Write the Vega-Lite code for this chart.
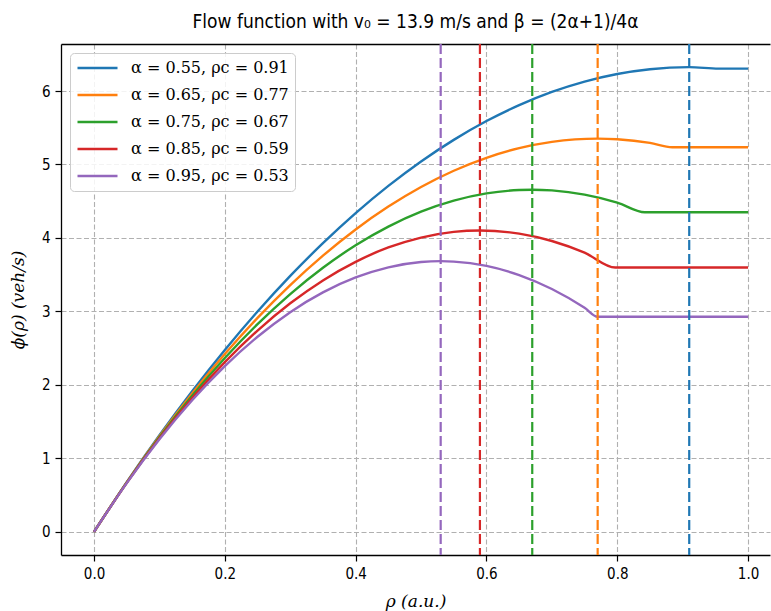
{
  "$schema": "https://vega.github.io/schema/vega-lite/v6.json",
  "width": 709,
  "height": 511,
  "autosize": {"type": "none"},
  "padding": {"left": 61, "top": 44, "right": 1, "bottom": 56},
  "background": "white",
  "title": {
    "text": "Flow function with v₀ = 13.9 m/s and β = (2α+1)/4α",
    "font": "'Liberation Sans Narrow', 'DejaVu Sans Condensed', Roboto",
    "fontSize": 19,
    "fontWeight": "normal",
    "color": "black",
    "anchor": "middle",
    "offset": 11
  },
  "config": {
    "view": {"stroke": null},
    "axis": {
      "domainColor": "black",
      "domainWidth": 1.3,
      "tickColor": "black",
      "tickWidth": 1.2,
      "tickSize": 6,
      "labelFont": "'Liberation Sans Narrow', 'DejaVu Sans Condensed', Roboto",
      "labelFontSize": 15,
      "labelColor": "black",
      "labelPadding": 5,
      "gridColor": "#b0b0b0",
      "gridDash": [5, 2.5],
      "gridWidth": 1.1,
      "titleFont": "'DejaVu Serif', 'Liberation Serif', serif",
      "titleFontStyle": "italic",
      "titleFontWeight": "normal",
      "titleFontSize": 17,
      "titleColor": "black"
    },
    "axisRight": {"domain": false, "grid": false, "ticks": false, "labels": false, "title": null}
  },
  "resolve": {"axis": {"x": "independent"}},
  "datasets": {
    "curves": [
      {"s": "α = 0.55, ρc = 0.91", "rho": 0, "phi": 0},
      {"s": "α = 0.55, ρc = 0.91", "rho": 0.05, "phi": 0.676},
      {"s": "α = 0.55, ρc = 0.91", "rho": 0.1, "phi": 1.314},
      {"s": "α = 0.55, ρc = 0.91", "rho": 0.15, "phi": 1.913},
      {"s": "α = 0.55, ρc = 0.91", "rho": 0.2, "phi": 2.475},
      {"s": "α = 0.55, ρc = 0.91", "rho": 0.25, "phi": 2.998},
      {"s": "α = 0.55, ρc = 0.91", "rho": 0.3, "phi": 3.483},
      {"s": "α = 0.55, ρc = 0.91", "rho": 0.35, "phi": 3.929},
      {"s": "α = 0.55, ρc = 0.91", "rho": 0.4, "phi": 4.338},
      {"s": "α = 0.55, ρc = 0.91", "rho": 0.45, "phi": 4.708},
      {"s": "α = 0.55, ρc = 0.91", "rho": 0.5, "phi": 5.041},
      {"s": "α = 0.55, ρc = 0.91", "rho": 0.55, "phi": 5.335},
      {"s": "α = 0.55, ρc = 0.91", "rho": 0.6, "phi": 5.591},
      {"s": "α = 0.55, ρc = 0.91", "rho": 0.65, "phi": 5.808},
      {"s": "α = 0.55, ρc = 0.91", "rho": 0.7, "phi": 5.988},
      {"s": "α = 0.55, ρc = 0.91", "rho": 0.75, "phi": 6.129},
      {"s": "α = 0.55, ρc = 0.91", "rho": 0.8, "phi": 6.232},
      {"s": "α = 0.55, ρc = 0.91", "rho": 0.85, "phi": 6.297},
      {"s": "α = 0.55, ρc = 0.91", "rho": 0.91, "phi": 6.325},
      {"s": "α = 0.55, ρc = 0.91", "rho": 0.955, "phi": 6.305},
      {"s": "α = 0.55, ρc = 0.91", "rho": 1.0, "phi": 6.305},
      {"s": "α = 0.65, ρc = 0.77", "rho": 0, "phi": 0},
      {"s": "α = 0.65, ρc = 0.77", "rho": 0.05, "phi": 0.672},
      {"s": "α = 0.65, ρc = 0.77", "rho": 0.1, "phi": 1.3},
      {"s": "α = 0.65, ρc = 0.77", "rho": 0.15, "phi": 1.882},
      {"s": "α = 0.65, ρc = 0.77", "rho": 0.2, "phi": 2.419},
      {"s": "α = 0.65, ρc = 0.77", "rho": 0.25, "phi": 2.911},
      {"s": "α = 0.65, ρc = 0.77", "rho": 0.3, "phi": 3.358},
      {"s": "α = 0.65, ρc = 0.77", "rho": 0.35, "phi": 3.759},
      {"s": "α = 0.65, ρc = 0.77", "rho": 0.4, "phi": 4.116},
      {"s": "α = 0.65, ρc = 0.77", "rho": 0.45, "phi": 4.427},
      {"s": "α = 0.65, ρc = 0.77", "rho": 0.5, "phi": 4.694},
      {"s": "α = 0.65, ρc = 0.77", "rho": 0.55, "phi": 4.915},
      {"s": "α = 0.65, ρc = 0.77", "rho": 0.6, "phi": 5.091},
      {"s": "α = 0.65, ρc = 0.77", "rho": 0.65, "phi": 5.222},
      {"s": "α = 0.65, ρc = 0.77", "rho": 0.7, "phi": 5.307},
      {"s": "α = 0.65, ρc = 0.77", "rho": 0.77, "phi": 5.352},
      {"s": "α = 0.65, ρc = 0.77", "rho": 0.8, "phi": 5.343},
      {"s": "α = 0.65, ρc = 0.77", "rho": 0.85, "phi": 5.294},
      {"s": "α = 0.65, ρc = 0.77", "rho": 0.884, "phi": 5.235},
      {"s": "α = 0.65, ρc = 0.77", "rho": 1.0, "phi": 5.235},
      {"s": "α = 0.75, ρc = 0.67", "rho": 0, "phi": 0},
      {"s": "α = 0.75, ρc = 0.67", "rho": 0.05, "phi": 0.669},
      {"s": "α = 0.75, ρc = 0.67", "rho": 0.1, "phi": 1.286},
      {"s": "α = 0.75, ρc = 0.67", "rho": 0.15, "phi": 1.852},
      {"s": "α = 0.75, ρc = 0.67", "rho": 0.2, "phi": 2.365},
      {"s": "α = 0.75, ρc = 0.67", "rho": 0.25, "phi": 2.827},
      {"s": "α = 0.75, ρc = 0.67", "rho": 0.3, "phi": 3.236},
      {"s": "α = 0.75, ρc = 0.67", "rho": 0.35, "phi": 3.594},
      {"s": "α = 0.75, ρc = 0.67", "rho": 0.4, "phi": 3.9},
      {"s": "α = 0.75, ρc = 0.67", "rho": 0.45, "phi": 4.154},
      {"s": "α = 0.75, ρc = 0.67", "rho": 0.5, "phi": 4.357},
      {"s": "α = 0.75, ρc = 0.67", "rho": 0.55, "phi": 4.507},
      {"s": "α = 0.75, ρc = 0.67", "rho": 0.6, "phi": 4.606},
      {"s": "α = 0.75, ρc = 0.67", "rho": 0.65, "phi": 4.652},
      {"s": "α = 0.75, ρc = 0.67", "rho": 0.67, "phi": 4.657},
      {"s": "α = 0.75, ρc = 0.67", "rho": 0.7, "phi": 4.647},
      {"s": "α = 0.75, ρc = 0.67", "rho": 0.75, "phi": 4.59},
      {"s": "α = 0.75, ρc = 0.67", "rho": 0.8, "phi": 4.481},
      {"s": "α = 0.75, ρc = 0.67", "rho": 0.842, "phi": 4.35},
      {"s": "α = 0.75, ρc = 0.67", "rho": 1.0, "phi": 4.35},
      {"s": "α = 0.85, ρc = 0.59", "rho": 0, "phi": 0},
      {"s": "α = 0.85, ρc = 0.59", "rho": 0.05, "phi": 0.666},
      {"s": "α = 0.85, ρc = 0.59", "rho": 0.1, "phi": 1.272},
      {"s": "α = 0.85, ρc = 0.59", "rho": 0.15, "phi": 1.82},
      {"s": "α = 0.85, ρc = 0.59", "rho": 0.2, "phi": 2.309},
      {"s": "α = 0.85, ρc = 0.59", "rho": 0.25, "phi": 2.739},
      {"s": "α = 0.85, ρc = 0.59", "rho": 0.3, "phi": 3.11},
      {"s": "α = 0.85, ρc = 0.59", "rho": 0.35, "phi": 3.422},
      {"s": "α = 0.85, ρc = 0.59", "rho": 0.4, "phi": 3.675},
      {"s": "α = 0.85, ρc = 0.59", "rho": 0.45, "phi": 3.87},
      {"s": "α = 0.85, ρc = 0.59", "rho": 0.5, "phi": 4.005},
      {"s": "α = 0.85, ρc = 0.59", "rho": 0.55, "phi": 4.082},
      {"s": "α = 0.85, ρc = 0.59", "rho": 0.59, "phi": 4.101},
      {"s": "α = 0.85, ρc = 0.59", "rho": 0.65, "phi": 4.058},
      {"s": "α = 0.85, ρc = 0.59", "rho": 0.7, "phi": 3.958},
      {"s": "α = 0.85, ρc = 0.59", "rho": 0.75, "phi": 3.799},
      {"s": "α = 0.85, ρc = 0.59", "rho": 0.797, "phi": 3.597},
      {"s": "α = 0.85, ρc = 0.59", "rho": 1.0, "phi": 3.597},
      {"s": "α = 0.95, ρc = 0.53", "rho": 0, "phi": 0},
      {"s": "α = 0.95, ρc = 0.53", "rho": 0.05, "phi": 0.662},
      {"s": "α = 0.95, ρc = 0.53", "rho": 0.1, "phi": 1.259},
      {"s": "α = 0.95, ρc = 0.53", "rho": 0.15, "phi": 1.79},
      {"s": "α = 0.95, ρc = 0.53", "rho": 0.2, "phi": 2.255},
      {"s": "α = 0.95, ρc = 0.53", "rho": 0.25, "phi": 2.655},
      {"s": "α = 0.95, ρc = 0.53", "rho": 0.3, "phi": 2.99},
      {"s": "α = 0.95, ρc = 0.53", "rho": 0.35, "phi": 3.259},
      {"s": "α = 0.95, ρc = 0.53", "rho": 0.4, "phi": 3.462},
      {"s": "α = 0.95, ρc = 0.53", "rho": 0.45, "phi": 3.6},
      {"s": "α = 0.95, ρc = 0.53", "rho": 0.5, "phi": 3.672},
      {"s": "α = 0.95, ρc = 0.53", "rho": 0.53, "phi": 3.684},
      {"s": "α = 0.95, ρc = 0.53", "rho": 0.55, "phi": 3.678},
      {"s": "α = 0.95, ρc = 0.53", "rho": 0.6, "phi": 3.619},
      {"s": "α = 0.95, ρc = 0.53", "rho": 0.65, "phi": 3.495},
      {"s": "α = 0.95, ρc = 0.53", "rho": 0.7, "phi": 3.305},
      {"s": "α = 0.95, ρc = 0.53", "rho": 0.75, "phi": 3.049},
      {"s": "α = 0.95, ρc = 0.53", "rho": 0.77, "phi": 2.928},
      {"s": "α = 0.95, ρc = 0.53", "rho": 1.0, "phi": 2.928}
    ],
    "critical": [
      {"s": "α = 0.55, ρc = 0.91", "rho_c": 0.91},
      {"s": "α = 0.65, ρc = 0.77", "rho_c": 0.77},
      {"s": "α = 0.75, ρc = 0.67", "rho_c": 0.67},
      {"s": "α = 0.85, ρc = 0.59", "rho_c": 0.59},
      {"s": "α = 0.95, ρc = 0.53", "rho_c": 0.53}
    ]
  },
  "layer": [
    {
      "data": {"name": "curves"},
      "mark": {"type": "line", "strokeWidth": 2.4, "interpolate": "monotone"},
      "encoding": {
        "x": {
          "field": "rho",
          "type": "quantitative",
          "scale": {"domain": [-0.0505, 1.0335], "nice": false, "zero": false},
          "axis": {"orient": "bottom", "values": [0, 0.2, 0.4, 0.6, 0.8, 1.0], "format": ".1f", "title": "ρ  (a.u.)", "titlePadding": 12}
        },
        "y": {
          "field": "phi",
          "type": "quantitative",
          "scale": {"domain": [-0.316, 6.64], "nice": false, "zero": false},
          "axis": {"orient": "left", "values": [0, 1, 2, 3, 4, 5, 6], "format": "d", "title": "ϕ(ρ)  (veh/s)", "titlePadding": 14}
        },
        "color": {
          "field": "s",
          "type": "nominal",
          "scale": {
            "domain": ["α = 0.55, ρc = 0.91", "α = 0.65, ρc = 0.77", "α = 0.75, ρc = 0.67", "α = 0.85, ρc = 0.59", "α = 0.95, ρc = 0.53"],
            "range": ["#1f77b4", "#ff7f0e", "#2ca02c", "#d62728", "#9467bd"]
          },
          "legend": {
            "title": null,
            "orient": "top-left",
            "offset": 9,
            "symbolType": "stroke",
            "symbolSize": 1600,
            "symbolStrokeWidth": 2.4,
            "labelFont": "'DejaVu Serif', 'Liberation Serif', serif",
            "labelFontSize": 16,
            "labelColor": "black",
            "clipHeight": 18,
            "rowPadding": 9,
            "padding": 6,
            "labelOffset": 12,
            "fillColor": "rgba(255,255,255,0.85)",
            "strokeColor": "#cccccc",
            "cornerRadius": 4
          }
        }
      }
    },
    {
      "data": {"name": "critical"},
      "mark": {"type": "rule", "strokeDash": [10, 4], "strokeWidth": 2.2},
      "encoding": {
        "x": {
          "field": "rho_c",
          "type": "quantitative",
          "axis": {"orient": "top", "labels": false, "ticks": false, "grid": false, "title": null, "domain": true}
        },
        "stroke": {
          "field": "s",
          "type": "nominal",
          "scale": {
            "domain": ["α = 0.55, ρc = 0.91", "α = 0.65, ρc = 0.77", "α = 0.75, ρc = 0.67", "α = 0.85, ρc = 0.59", "α = 0.95, ρc = 0.53"],
            "range": ["#1f77b4", "#ff7f0e", "#2ca02c", "#d62728", "#9467bd"]
          },
          "legend": null
        }
      }
    }
  ]
}
